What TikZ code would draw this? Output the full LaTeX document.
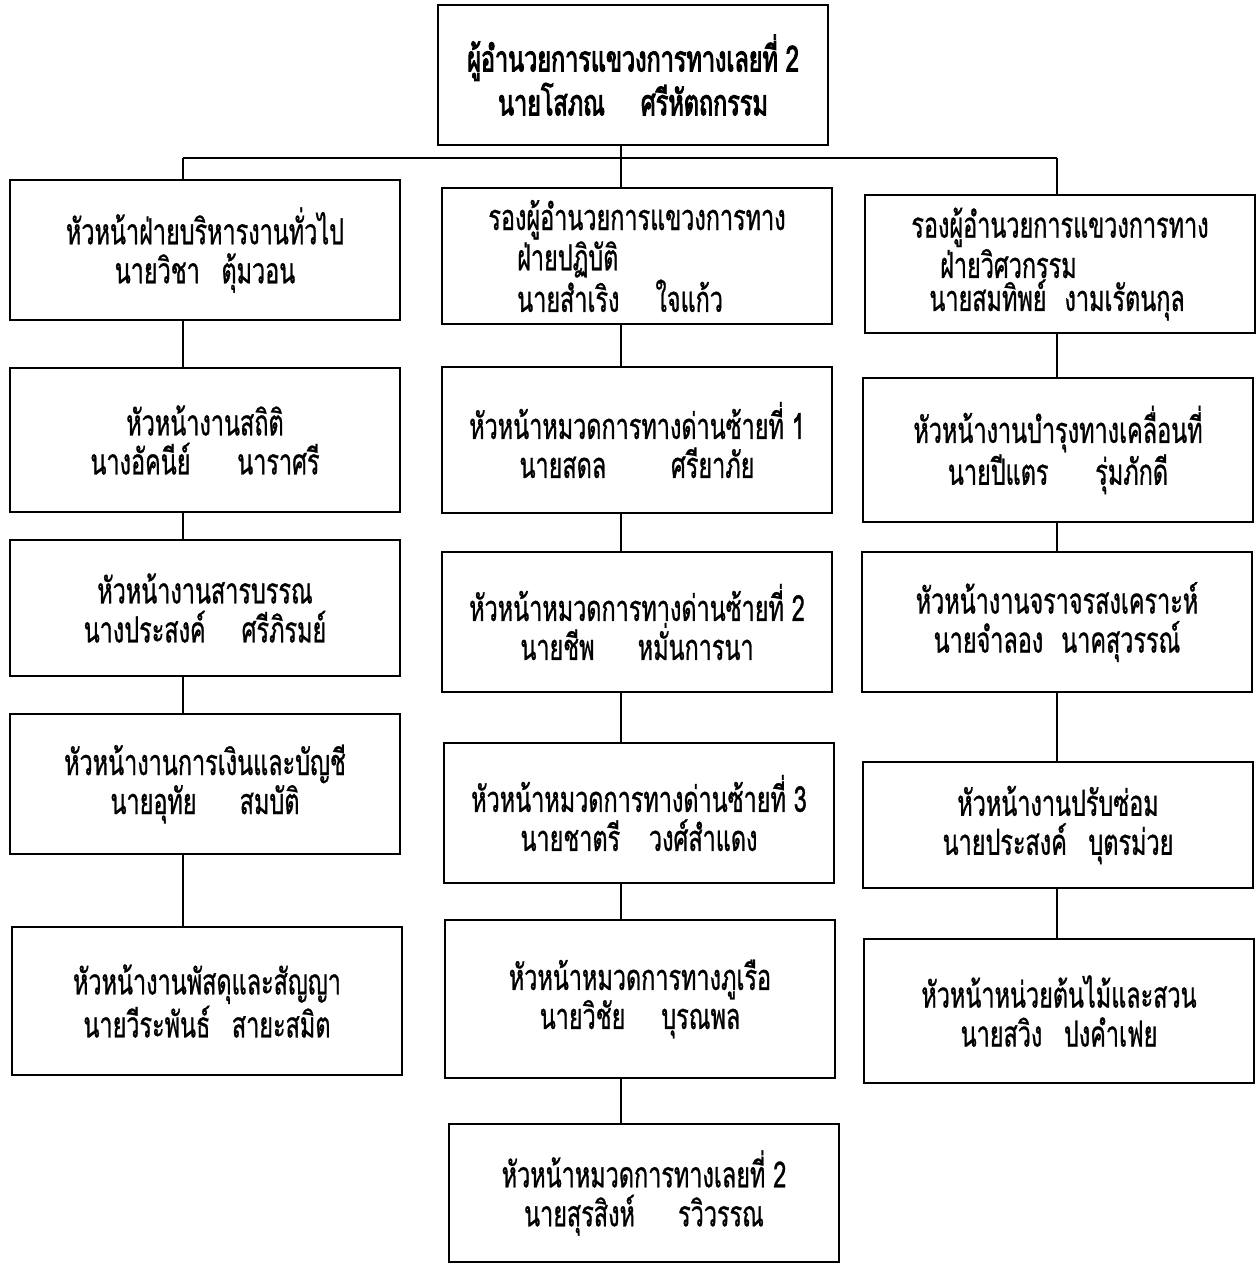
\documentclass[tikz,border=0pt]{standalone}
\usepackage{fontspec}
\newfontfamily\thaifont[Script=Thai,FakeStretch=0.65,FakeBold=0.8]{Loma}
\newfontfamily\thaibold[Script=Thai,FakeStretch=0.65,FakeBold=2.5]{Loma}
\usetikzlibrary{positioning}

\begin{document}
\begin{tikzpicture}[
    x=0.5pt, y=-0.5pt,
    unit/.style={draw, line width=0.8pt, minimum width=195pt, minimum height=70pt,
        inner sep=0pt, align=center, font=\thaifont\fontsize{18}{19.5}\selectfont},
    deputy/.style={unit, align=left, font=\thaifont\fontsize{18}{16.5}\selectfont},
    link/.style={line width=0.8pt}]
\useasboundingbox (0,0) rectangle (1258,1269);

% head of the office
\node[unit, font=\thaibold\fontsize{18}{18}\selectfont] (head) at (633,75)
    {ผู้อำนวยการแขวงการทางเลยที่ 2\\นายโสภณ\hspace{1em}ศรีหัตถกรรม};

% left column
\node[unit] (adm) at (205,250) {หัวหน้าฝ่ายบริหารงานทั่วไป\\นายวิชา\hspace{0.6em}ตุ้มวอน};
\node[unit, minimum height=72pt] (stat) at (205,440) {หัวหน้างานสถิติ\\นางอัคนีย์\hspace{1.3em}นาราศรี};
\node[unit, minimum height=68pt] (sarab) at (205,608) {หัวหน้างานสารบรรณ\\นางประสงค์\hspace{1em}ศรีภิรมย์};
\node[unit] (fin) at (205,784) {หัวหน้างานการเงินและบัญชี\\นายอุทัย\hspace{1.2em}สมบัติ};
\node[unit, minimum height=74pt] (supp) at (207,1001) {หัวหน้างานพัสดุและสัญญา\\นายวีระพันธ์\hspace{0.6em}สายะสมิต};

% middle column
\node[deputy, minimum height=68pt] (opr) at (637,256)
    {รองผู้อำนวยการแขวงการทาง\\\hspace{0.8em}ฝ่ายปฏิบัติ\\\hspace{0.8em}นายสำเริง\hspace{1em}ใจแก้ว};
\node[unit, minimum height=73pt] (dz1) at (637,440) {หัวหน้าหมวดการทางด่านซ้ายที่ 1\\นายสดล\hspace{1.8em}ศรียาภัย};
\node[unit] (dz2) at (637,622) {หัวหน้าหมวดการทางด่านซ้ายที่ 2\\นายชีพ\hspace{1.2em}หมั่นการนา};
\node[unit] (dz3) at (639,813) {หัวหน้าหมวดการทางด่านซ้ายที่ 3\\นายชาตรี\hspace{0.8em}วงศ์สำแดง};
\node[unit, minimum height=79pt] (phr) at (640,999) {หัวหน้าหมวดการทางภูเรือ\\นายวิชัย\hspace{1em}บุรณพล};
\node[unit, minimum height=69pt] (loei) at (644,1193) {หัวหน้าหมวดการทางเลยที่ 2\\นายสุรสิงห์\hspace{1.2em}รวิวรรณ};

% right column
\node[deputy, minimum height=69pt] (eng) at (1060,264)
    {รองผู้อำนวยการแขวงการทาง\\\hspace{0.8em}ฝ่ายวิศวกรรม\\\hspace{0.5em}นายสมทิพย์\hspace{0.5em}งามเรัตนกุล};
\node[unit, minimum height=72pt] (maint) at (1058,450) {หัวหน้างานบำรุงทางเคลื่อนที่\\นายปีแตร\hspace{1.3em}รุ่มภักดี};
\node[unit] (traf) at (1057,622) {หัวหน้างานจราจรสงเคราะห์\\นายจำลอง\hspace{0.5em}นาคสุวรรณ์};
\node[unit, minimum height=63pt] (rep) at (1058,825) {หัวหน้างานปรับซ่อม\\นายประสงค์\hspace{0.6em}บุตรม่วย};
\node[unit, minimum height=72pt] (park) at (1059,1011) {หัวหน้าหน่วยต้นไม้และสวน\\นายสวิง\hspace{0.6em}ปงคำเฟย};

% lines
\coordinate (lbus) at (183,158);
\coordinate (mbus) at (621,158);
\coordinate (rbus) at (1057,158);
\draw[link] (head.south -| mbus) -- (mbus);
\draw[link] (lbus) -- (rbus);
\draw[link] (lbus) -- (adm.north -| lbus);
\draw[link] (mbus) -- (opr.north -| mbus);
\draw[link] (rbus) -- (eng.north -| rbus);
\foreach \a/\b in {adm/stat, stat/sarab, sarab/fin, fin/supp}
    \draw[link] (\a.south -| lbus) -- (\b.north -| lbus);
\foreach \a/\b in {opr/dz1, dz1/dz2, dz2/dz3, dz3/phr, phr/loei}
    \draw[link] (\a.south -| mbus) -- (\b.north -| mbus);
\foreach \a/\b in {eng/maint, maint/traf, traf/rep, rep/park}
    \draw[link] (\a.south -| rbus) -- (\b.north -| rbus);

\end{tikzpicture}
\end{document}
